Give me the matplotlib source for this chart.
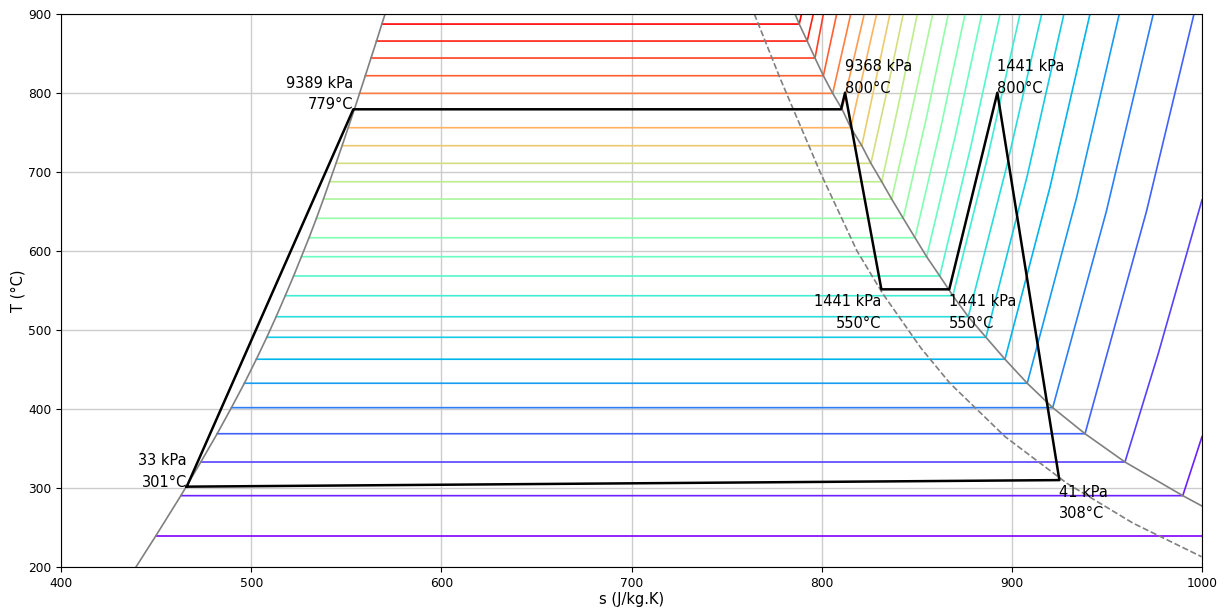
import matplotlib
matplotlib.use("Agg")
from matplotlib import pyplot as plt

# saturation temperature of each isobar, top to bottom [degC]
T_sat = [887.3, 865.8, 844.3, 821.9, 799.6, 779.7, 756.1, 733.3, 711.0, 687.7,
         665.8, 641.4, 616.8, 592.8, 568.4, 543.4, 516.8, 490.8, 463.0, 432.6,
         401.7, 368.7, 332.9, 290.3, 238.9]
# entropy of saturated liquid / vapour on each isobar
s_liq = [568.7, 565.9, 563.0, 560.0, 557.0, 554.3, 551.0, 547.8, 544.6, 541.2,
         538.0, 534.3, 530.4, 526.4, 522.3, 517.9, 513.1, 508.2, 502.7, 496.4,
         489.6, 482.1, 473.5, 463.0, 449.7]
s_vap = [788.2, 792.4, 796.5, 800.9, 805.8, 810.7, 815.3, 821.1, 825.9, 831.6,
         836.8, 842.9, 849.1, 855.2, 862.1, 869.0, 877.1, 886.4, 896.4, 908.1,
         921.5, 938.5, 959.5, 989.9, 1000.0]

# superheated part of each isobar (after the saturated vapour point)
sup_s = [[789.4], [795.6], [800.9], [807.9], [815.3], [822.4], [828.9], [835.9],
         [834.6, 842.9], [841.2, 850.3], [847.9, 858.4], [855.2, 866.6],
         [862.8, 875.4], [870.3, 884.2], [878.6, 893.8], [887.6, 904.3],
         [897.4, 915.7], [908.1, 927.4], [920.1, 941.1], [933.9, 956.5],
         [949.7, 974.4], [970.8, 995.8], [977.0, 1000.0], [1000.0], []]
sup_T = [[900], [900], [900], [900], [900], [900], [900], [900],
         [805, 900], [794, 900], [783, 900], [770, 900],
         [758, 900], [746, 900], [734, 900], [722, 900],
         [708, 900], [695, 900], [681, 900], [666, 900],
         [650, 900], [650, 900], [470, 664.6], [364.9], []]

# saturation dome end points
liq_end_s = [439.4, 570.4]
liq_end_T = [200, 900]
vap_end_s = [786.0, 1000.0]
vap_end_T = [900, 277.2]

# dashed line
dash_s = [764.6, 778.5, 799.1, 818.6, 832.0, 852.2, 867.5, 896.5, 929.0, 963.9, 999.8]
dash_T = [900, 816.5, 700.4, 600, 546.5, 477.2, 432.5, 364.9, 305.9, 255.3, 213.0]

# cycle
cyc_s = [466.1, 553.7, 810.2, 812.3, 831.4, 867.1, 892.4, 925.0, 466.1]
cyc_T = [301.7, 779.4, 779.4, 800.4, 551.5, 551.5, 800.4, 310.0, 301.7]

labels = ["33 kPa\n301°C", "9389 kPa\n779°C", "9368 kPa\n800°C", "1441 kPa\n550°C",
          "1441 kPa\n550°C", "1441 kPa\n800°C", "41 kPa\n308°C"]
label_pts = [0, 1, 3, 4, 5, 6, 7]
label_ha = ["right", "right", "left", "right", "left", "left", "left"]
label_va = ["baseline", "baseline", "baseline", "top", "top", "baseline", "top"]

fig = plt.figure(figsize=(12.26, 6.10), dpi=100)
plt.subplots_adjust(left=0.0498, right=0.9804, top=0.977, bottom=0.0705)

n = len(T_sat)
for i in range(n):
    col = plt.cm.rainbow(1 - i / (n - 1))
    xs = [s_liq[i], s_vap[i]] + sup_s[i]
    ys = [T_sat[i], T_sat[i]] + sup_T[i]
    plt.plot(xs, ys, color=col, lw=1.2)

# dome
plt.plot([liq_end_s[0]] + s_liq[::-1] + [liq_end_s[1]],
         [liq_end_T[0]] + T_sat[::-1] + [liq_end_T[1]], color='grey', lw=1.2)
plt.plot([vap_end_s[0]] + s_vap[:-1] + [vap_end_s[1]],
         [vap_end_T[0]] + T_sat[:-1] + [vap_end_T[1]], color='grey', lw=1.2)
plt.plot(dash_s, dash_T, color='grey', lw=1.2, linestyle='--')

plt.plot(cyc_s, cyc_T, color='k', lw=1.8)

for txt, k, ha, va in zip(labels, label_pts, label_ha, label_va):
    dy = -3.3 if va == "top" else 0
    plt.annotate(txt, (cyc_s[k], cyc_T[k]), xytext=(0, dy), textcoords='offset points',
                 ha=ha, va=va, fontsize=10.5, linespacing=1.55)

plt.xlim(400, 1000)
plt.ylim(200, 900)
plt.xlabel("s (J/kg.K)", fontsize=10.5, labelpad=2)
plt.ylabel("T (°C)", fontsize=10.5, labelpad=2)
plt.tick_params(labelsize=8.8)
plt.grid(color='#cccccc', lw=1.0)

plt.savefig("out.png")
